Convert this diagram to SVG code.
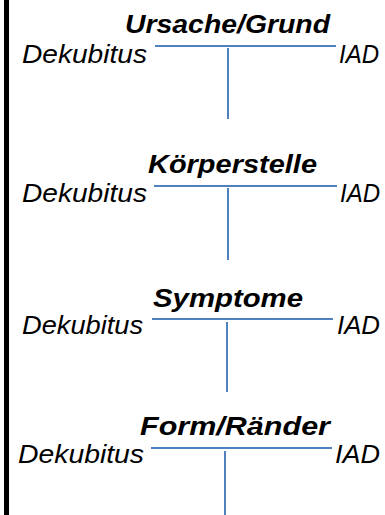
<svg xmlns="http://www.w3.org/2000/svg" width="385" height="515" viewBox="0 0 385 515">
<style>
.t{font-family:"Liberation Sans",Arial,sans-serif;font-style:italic;font-weight:bold;font-size:26px;fill:#000}
.l{font-family:"Liberation Sans",Arial,sans-serif;font-style:italic;font-size:25px;fill:#000}
.c{stroke:#4f81bd;stroke-width:2;fill:none}
</style>
<rect x="4" y="0" width="5" height="515" fill="#000"/>
<g id="node-ursache">
<text class="t" x="125" y="33" textLength="205" lengthAdjust="spacingAndGlyphs">Ursache/Grund</text>
<text class="l" x="22" y="63" textLength="125" lengthAdjust="spacingAndGlyphs">Dekubitus</text>
<text class="l" x="339" y="63" textLength="40" lengthAdjust="spacingAndGlyphs">IAD</text>
</g>
<g id="node-koerperstelle">
<text class="t" x="148" y="173" textLength="169" lengthAdjust="spacingAndGlyphs">Körperstelle</text>
<text class="l" x="22" y="202" textLength="125" lengthAdjust="spacingAndGlyphs">Dekubitus</text>
<text class="l" x="340" y="202" textLength="40" lengthAdjust="spacingAndGlyphs">IAD</text>
</g>
<g id="node-symptome">
<text class="t" x="153" y="307" textLength="150" lengthAdjust="spacingAndGlyphs">Symptome</text>
<text class="l" x="22" y="334" textLength="121" lengthAdjust="spacingAndGlyphs">Dekubitus</text>
<text class="l" x="337" y="334" textLength="43" lengthAdjust="spacingAndGlyphs">IAD</text>
</g>
<g id="node-form">
<text class="t" x="140" y="435" textLength="190" lengthAdjust="spacingAndGlyphs">Form/Ränder</text>
<text class="l" x="18" y="463" textLength="126" lengthAdjust="spacingAndGlyphs">Dekubitus</text>
<text class="l" x="335" y="463" textLength="45" lengthAdjust="spacingAndGlyphs">IAD</text>
</g>
<g id="connectors">
<line class="c" x1="155" y1="46" x2="336" y2="46"/>
<line class="c" x1="228" y1="48" x2="228" y2="119"/>
<line class="c" x1="154" y1="186" x2="337" y2="186"/>
<line class="c" x1="228" y1="188" x2="228" y2="260"/>
<line class="c" x1="152" y1="319" x2="333" y2="319"/>
<line class="c" x1="227" y1="322" x2="227" y2="392"/>
<line class="c" x1="151" y1="448" x2="332" y2="448"/>
<line class="c" x1="225" y1="451" x2="225" y2="515"/>
</g>
</svg>
